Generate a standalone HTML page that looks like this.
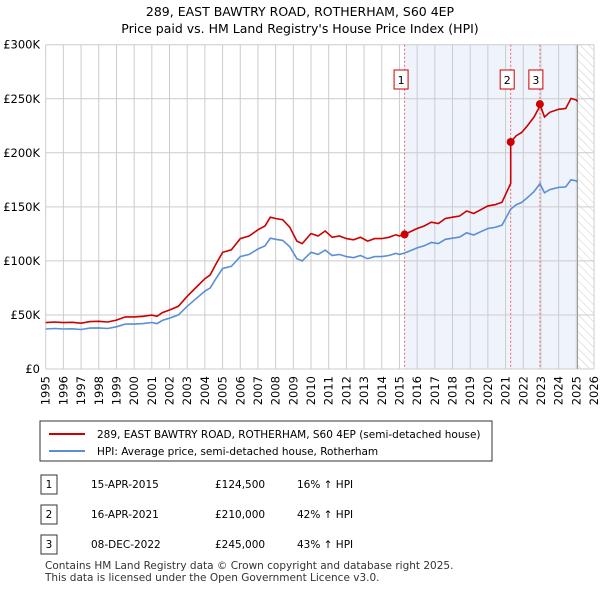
<!DOCTYPE html>
<html><head><meta charset="utf-8"><style>
body{margin:0;background:#fff;font-family:"Liberation Sans","DejaVu Sans",sans-serif;}
svg text{font-family:"DejaVu Sans","Liberation Sans",sans-serif;}
</style></head><body>
<svg id="c" width="600" height="590" xmlns="http://www.w3.org/2000/svg">
<defs><pattern id="hatch" width="6" height="6" patternUnits="userSpaceOnUse" patternTransform="rotate(-45)"><line x1="0" y1="0" x2="0" y2="6" stroke="#ccc" stroke-width="1"/></pattern></defs>
<text x="300" y="16" text-anchor="middle" font-size="12.5">289, EAST BAWTRY ROAD, ROTHERHAM, S60 4EP</text>
<text x="300" y="33" text-anchor="middle" font-size="12.5">Price paid vs. HM Land Registry's House Price Index (HPI)</text>
<g id="grid"></g><g id="marks"></g>
<g>
<rect x="40" y="421" width="452" height="40" fill="#fff" stroke="#333" stroke-width="1"/>
<line x1="49" y1="434" x2="85" y2="434" stroke="#cc0000" stroke-width="2"/>
<text x="97" y="438" font-size="10.5">289, EAST BAWTRY ROAD, ROTHERHAM, S60 4EP (semi-detached house)</text>
<line x1="49" y1="451" x2="85" y2="451" stroke="#5b8fd4" stroke-width="2"/>
<text x="97" y="455" font-size="10.5">HPI: Average price, semi-detached house, Rotherham</text>
</g>
<g id="table" font-size="10.5"></g>
<text x="45" y="569" font-size="10.5" fill="#333">Contains HM Land Registry data © Crown copyright and database right 2025.</text>
<text x="45" y="581" font-size="10.5" fill="#333">This data is licensed under the Open Government Licence v3.0.</text>
</svg>
<script>
const hpiYears=[1995,1995.5,1996,1996.5,1997,1997.5,1998,1998.5,1999,1999.5,2000,2000.5,2001,2001.3,2001.6,2002,2002.5,2003,2003.5,2004,2004.3,2004.6,2005,2005.5,2006,2006.5,2007,2007.4,2007.7,2008,2008.4,2008.8,2009.2,2009.5,2010,2010.4,2010.8,2011.2,2011.6,2012,2012.4,2012.8,2013.2,2013.6,2014,2014.4,2014.8,2015,2015.29,2015.7,2016,2016.4,2016.8,2017.2,2017.6,2018,2018.4,2018.8,2019.2,2019.6,2020,2020.4,2020.8,2021.29,2021.6,2021.9,2022.2,2022.6,2022.94,2023.2,2023.5,2024,2024.4,2024.7,2025,2025.07];
const hpiValues=[37000,37500,37000,37200,36500,37800,38000,37500,39000,41500,41500,42000,43000,42000,45000,47000,50000,58000,65000,72000,75000,83000,93000,95000,104000,106000,111000,114000,121000,120000,119000,113000,102000,100000,108000,106000,110000,105000,106000,104000,103000,105000,102000,104000,104000,105000,107000,106000,107300,110000,112000,114000,117000,116000,120000,121000,122000,126000,124000,127000,130000,131000,133000,147900,152000,154000,158000,164000,171300,163000,166000,168000,168500,175000,174000,173000];
const saleYears=[2015.29,2021.29,2022.94];
const salePrices=[124500,210000,245000];
const saleLabels=["1","2","3"];
const saleDates=["15-APR-2015","16-APR-2021","08-DEC-2022"];
const salePriceText=["£124,500","£210,000","£245,000"];
const saleHpiText=["16% ↑ HPI","42% ↑ HPI","43% ↑ HPI"];
const yTicks=[0,50000,100000,150000,200000,250000,300000];
const yTickLabels=["£0","£50K","£100K","£150K","£200K","£250K","£300K"];
const xTicks=[1995,1996,1997,1998,1999,2000,2001,2002,2003,2004,2005,2006,2007,2008,2009,2010,2011,2012,2013,2014,2015,2016,2017,2018,2019,2020,2021,2022,2023,2024,2025,2026];

const X0=45.7,X1=594,Y0=369,Y1=44.7,xmin=1995,xmax=2026,ymax=300000,dataEnd=2025.07;
const sx=v=>X0+(v-xmin)/(xmax-xmin)*(X1-X0);
const sy=v=>Y0-(v/ymax)*(Y0-Y1);
const NS="http://www.w3.org/2000/svg";
function mk(parent,tag,attrs){const e=document.createElementNS(NS,tag);for(const k in attrs)e.setAttribute(k,attrs[k]);parent.appendChild(e);return e;}
const g=document.getElementById('grid'),m=document.getElementById('marks'),tb=document.getElementById('table');
let sh=mk(g,'rect',{x:sx(saleYears[0]),y:Y1,width:sx(dataEnd)-sx(saleYears[0]),height:Y0-Y1,fill:'#eef3fc'});


let ht=mk(g,'rect',{x:sx(dataEnd),y:Y1,width:X1-sx(dataEnd),height:Y0-Y1,fill:'url(#hatch)'});


xTicks.forEach((t,i)=>{
 const l=mk(g,'line',{x1:sx(t),x2:sx(t),y1:Y1,y2:Y0,stroke:'#ccc','stroke-width':1});
 
 
 const tx=mk(g,'text',{x:0,y:0,'font-size':11.5,'text-anchor':'end',transform:`translate(${sx(t)+4},${Y0+7}) rotate(-90)`});
 tx.textContent=t;
 
 
});
yTicks.forEach((t,i)=>{
 const l=mk(g,'line',{x1:X0,x2:X1,y1:sy(t),y2:sy(t),stroke:'#ccc','stroke-width':1});
 
 
 const tx=mk(g,'text',{x:40,y:sy(t)+4,'font-size':11.5,'text-anchor':'end'});
 tx.textContent=yTickLabels[i];
 
 
});
let el=mk(g,'line',{x1:sx(dataEnd),x2:sx(dataEnd),y1:Y1,y2:Y0,stroke:'#999','stroke-width':1});


function hpiAt(y){for(let i=0;i<hpiYears.length-1;i++){if(y<=hpiYears[i+1]){const f=(y-hpiYears[i])/(hpiYears[i+1]-hpiYears[i]);return hpiValues[i]+f*(hpiValues[i+1]-hpiValues[i]);}}return hpiValues[hpiValues.length-1];}
function ratioAt(y){let k=0;for(let i=0;i<saleYears.length;i++)if(y>=saleYears[i])k=i;return salePrices[k]/hpiAt(saleYears[k]);}
saleYears.forEach((s,i)=>{
 const l=mk(g,'line',{x1:sx(s),x2:sx(s),y1:Y1,y2:Y0,stroke:'#e66','stroke-width':1,'stroke-dasharray':'2,2'});
 
 
});
const hp=hpiYears.map((y,i)=>`${sx(y).toFixed(1)},${sy(hpiValues[i]).toFixed(1)}`).join(' ');
let hl=mk(m,'polyline',{points:hp,fill:'none',stroke:'#5b8fd4','stroke-width':1.6});


let pp=[];
hpiYears.forEach((y,i)=>{
 const k=saleYears.findIndex(s=>Math.abs(s-y)<1e-6);
 if(k>0){pp.push(`${sx(y).toFixed(1)},${sy(hpiValues[i]*salePrices[k-1]/hpiAt(saleYears[k-1])).toFixed(1)}`);}
 pp.push(`${sx(y).toFixed(1)},${sy(hpiValues[i]*ratioAt(y)).toFixed(1)}`);
});
let pl=mk(m,'polyline',{points:pp.join(' '),fill:'none',stroke:'#cc0000','stroke-width':1.6});


saleYears.forEach((s,i)=>{
 const c=mk(m,'circle',{cx:sx(s),cy:sy(salePrices[i]),r:4,fill:'#cc0000'});
 
 
 const off=(i==2?11:10.5);
 const r=mk(m,'rect',{x:sx(s)-off,y:70,width:14,height:19,fill:'#fff',stroke:'#cc0000'});
 
 
 const t=mk(m,'text',{x:sx(s)-off+7,y:84,'font-size':11,'text-anchor':'middle'});
 t.textContent=saleLabels[i];
 
 
});
saleLabels.forEach((lab,i)=>{
 const y=484+30*i;
 const r=mk(tb,'rect',{x:41,y:y-9,width:16,height:19,fill:'#fff',stroke:'#333'});
 
 
 const cells=[[49,lab,'middle'],[91,saleDates[i],'start'],[215,salePriceText[i],'start'],[297,saleHpiText[i],'start']];
 cells.forEach(c=>{const t=mk(tb,'text',{x:c[0],y:y+4,'text-anchor':c[2]});t.textContent=c[1];
 
 });
});
</script>
</body></html>
